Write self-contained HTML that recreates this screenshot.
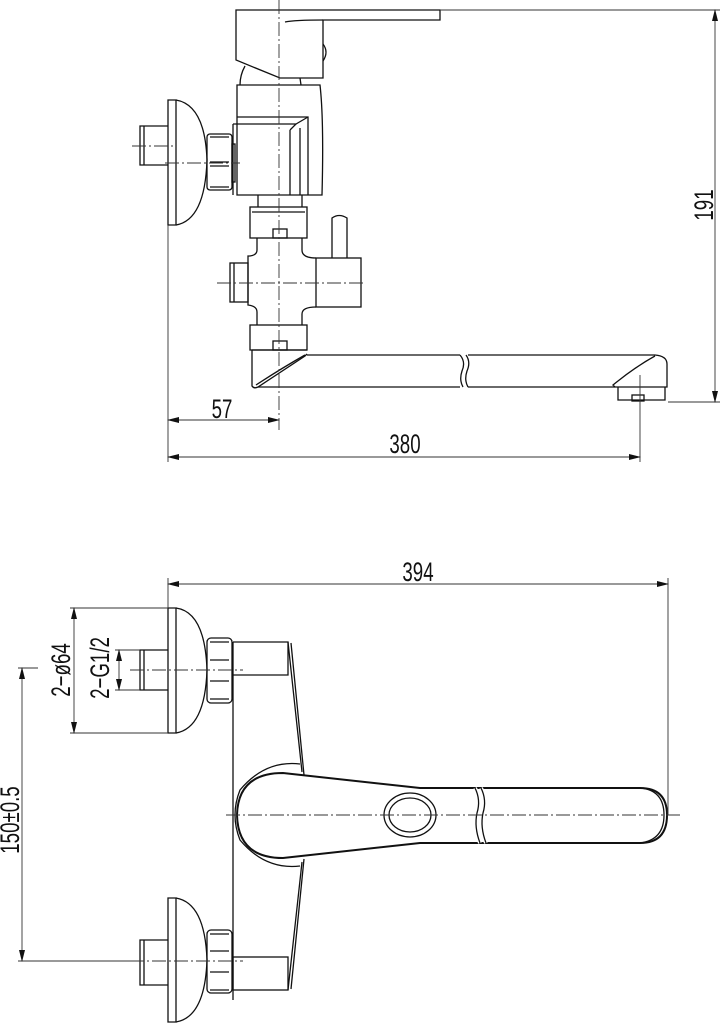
<!DOCTYPE html>
<html><head><meta charset="utf-8"><style>
html,body{margin:0;padding:0;background:#fff;}
svg{display:block}
text{font-family:"Liberation Sans",sans-serif;font-size:22px;fill:#111;}
</style></head><body>
<svg width="720" height="1024" viewBox="0 0 720 1024" xmlns="http://www.w3.org/2000/svg">
<defs>
<marker id="a" markerWidth="12" markerHeight="6" refX="11" refY="3" orient="auto-start-reverse" markerUnits="userSpaceOnUse"><path d="M0,0 L12,3 L0,6 Z" fill="#111"/></marker>
</defs>
<g fill="none" stroke="#111" stroke-width="1.3">
<path d="M236,10 L440,10 L440,20 L323,20 L323,78 L280,78 L236,60 Z"/>
<path d="M285,22 Q295,20 323,20"/>
<path d="M323,44 Q329,52 323,61"/>
<path d="M245,66 Q240,75 240,85"/>
<path d="M300,78 L301,85"/>
<path d="M237,85 L320,85 Q324,120 322,195 L237,195 Z"/>
<path d="M237,117 L308,117 L308,195"/>
<path d="M233,124 L296,124 L308,117"/>
<path d="M233,124 L233,195"/>
<path d="M290,130 L296,124 M290,130 L290,195 M300,128 L300,195"/>
<rect x="207" y="134" width="25" height="56" rx="3"/>
<path d="M210,137 L229,137 M210,162 L229,162 M210,166 L229,166 M210,187 L229,187"/>
<rect x="232" y="144" width="3" height="38"/>
<path d="M168,100 L176,100 L176,225 L168,225 Z"/>
<path d="M176,100 Q205,105 207,160 Q205,220 176,225"/>
<path d="M168,126 L140,126 L140,165 L168,165"/>
<path d="M144,126 L144,165"/>
<path d="M258,195 L258,207 M302,195 L302,207"/>
<rect x="250" y="207" width="57" height="31"/>
<path d="M252,212 L305,212"/>
<rect x="273" y="229" width="14" height="9"/>
<path d="M257,238 L257,250 Q257,255 250,256 L248,256 L248,305 Q257,306 257,312 L257,325"/>
<path d="M302,238 L302,250 Q302,258 316,258 M316,307 Q302,307 302,314 L302,325"/>
<rect x="316" y="258" width="45" height="49"/>
<path d="M332,258 L332,218 Q339,213 347,218 L347,258"/>
<rect x="230" y="263" width="18" height="39"/>
<path d="M234,263 L234,302"/>
<rect x="250" y="325" width="57" height="25"/>
<rect x="273" y="341" width="14" height="9"/>
<path d="M252,350 L307,350"/>
<path d="M252,350 L252,386 Q254,389 258,387 L305,356 L307,354"/>
<path d="M256,385 Q282,368 305,355"/>
<path d="M307,355 L460,355 M468,355 L655,355 Q667,356 667,364 L667,387 L615,387 L613,385 Q635,367 655,356"/>
<path d="M258,387 L460,387 M468,387 L615,387"/>
<path d="M460,355 Q466,362 462,371 Q459,380 463,387 M466,355 Q471,362 467,371 Q464,380 468,387"/>
<path d="M618,387 L618,400 L665,400 L665,387"/>
<rect x="632" y="395" width="12" height="6"/>
<path d="M168,608 L176,608 L176,733 L168,733 Z"/>
<path d="M176,608 Q205,612 207,670 Q205,728 176,733"/>
<path d="M168,650 L140,650 L140,690 L168,690 M144,650 L144,690"/>
<rect x="207" y="638" width="25" height="65" rx="4"/>
<path d="M210,642 L229,642 M210,660 L229,660 M210,681 L229,681 M210,699 L229,699"/>
<path d="M233,642 L288,642 L288,675 L233,675"/>
<path d="M233,642 L233,1000"/>
<path d="M288,642 L302,772 M291,643 L304,775"/>
<path d="M288,990 L302,862 M291,989 L304,859"/>
<rect x="233" y="957" width="55" height="33"/>
<path d="M168,898 L176,898 L176,1022 L168,1022 Z"/>
<path d="M176,898 Q205,903 207,960 Q205,1017 176,1022"/>
<path d="M168,940 L140,940 L140,985 L168,985 M144,940 L144,985"/>
<rect x="207" y="930" width="25" height="63" rx="4"/>
<path d="M210,934 L229,934 M210,951 L229,951 M210,972 L229,972 M210,990 L229,990"/>
<path d="M300,764 Q265,760 240,790 Q230,815 240,840 Q265,870 300,866"/>
<path stroke-width="2" d="M283,773 Q238,773 237,815 Q238,858 283,858 L420,843 L640,843 Q667,843 667,815 Q667,788 640,788 L420,788 Z"/>
<path d="M640,788 Q664,790 664,815 Q664,840 640,843"/>
<path d="M475,788 Q481,800 477,813 Q474,827 480,843 M481,788 Q487,800 483,813 Q480,827 486,843" stroke="#fff" stroke-width="4"/>
<path d="M475,788 Q481,800 477,813 Q474,827 480,843 M481,788 Q487,800 483,813 Q480,827 486,843"/>
<ellipse cx="410" cy="815" rx="26" ry="22"/>
<ellipse cx="410" cy="815" rx="21" ry="17"/>
</g>
<g stroke="#333" stroke-width="0.9" fill="none" stroke-dasharray="14,3,2,3">
<path d="M279,0 L279,430"/>
<path d="M132,146 L176,146 M165,163 L240,163"/>
<path d="M217,283 L365,283"/>
<path d="M130,670 L243,670"/>
<path d="M226,815 L680,815"/>
<path d="M130,961 L243,961"/>
</g>
<g stroke="#333" stroke-width="0.9" fill="none">
<path d="M440,10 L720,10 M668,402 L720,402"/>
<path d="M715,10 L715,402" marker-start="url(#a)" marker-end="url(#a)"/>
<path d="M168,225 L168,462 M640,375 L640,462"/>
<path d="M168,420 L279,420" marker-start="url(#a)" marker-end="url(#a)"/>
<path d="M168,457 L640,457" marker-start="url(#a)" marker-end="url(#a)"/>
<path d="M168,578 L168,608 M668,578 L668,815"/>
<path d="M168,584 L668,584" marker-start="url(#a)" marker-end="url(#a)"/>
<path d="M70,608 L168,608 M70,733 L168,733"/>
<path d="M74,608 L74,733" marker-start="url(#a)" marker-end="url(#a)"/>
<path d="M115,650 L140,650 M115,690 L140,690"/>
<path d="M119,650 L119,690" marker-start="url(#a)" marker-end="url(#a)"/>
<path d="M18,668 L38,668 M18,961 L140,961"/>
<path d="M22,668 L22,961" marker-start="url(#a)" marker-end="url(#a)"/>
</g>
<g>
<text transform="translate(222,418) scale(0.85,1.2)" text-anchor="middle">57</text>
<text transform="translate(405,453) scale(0.85,1.2)" text-anchor="middle">380</text>
<text transform="translate(418,581) scale(0.85,1.2)" text-anchor="middle">394</text>
<text transform="translate(713,205) rotate(-90) scale(0.85,1.2)" text-anchor="middle">191</text>
<text transform="translate(70,670) rotate(-90) scale(0.85,1.2)" text-anchor="middle">2−ø64</text>
<text transform="translate(109,668) rotate(-90) scale(0.85,1.2)" text-anchor="middle">2−G1/2</text>
<text transform="translate(19,820) rotate(-90) scale(0.85,1.2)" text-anchor="middle">150±0.5</text>
</g>
</svg>
</body></html>
